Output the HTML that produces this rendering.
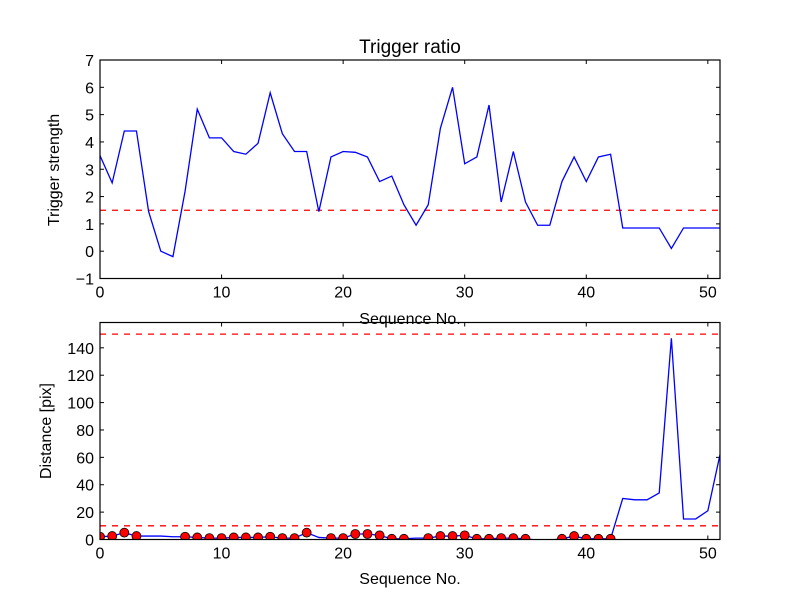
<!DOCTYPE html>
<html><head><meta charset="utf-8"><style>
body{margin:0;background:#fff;}
svg{display:block;font-family:"Liberation Sans","DejaVu Sans",sans-serif;}
</style></head><body>
<svg id="chart" width="800" height="600" viewBox="0 0 800 600" xmlns="http://www.w3.org/2000/svg">
<rect width="800" height="600" fill="#fff"/>
</svg>
<script>
const topValues=[3.5,2.5,4.4,4.4,1.45,0.0,-0.2,2.2,5.2,4.15,4.15,3.65,3.55,3.95,5.8,4.3,3.65,3.65,1.45,3.45,3.65,3.62,3.45,2.55,2.75,1.7,0.95,1.7,4.5,6.0,3.2,3.45,5.35,1.8,3.65,1.8,0.95,0.95,2.55,3.45,2.55,3.45,3.55,0.85,0.85,0.85,0.85,0.1,0.85,0.85,0.85,0.85];
const topThreshold=1.5;
const bottomValues=[2,2.5,5,2.5,2.5,2.5,2,2,1.5,1,1,1.5,1.5,1.5,2,1,1,5,1.5,1,1,4,4,3,0.5,0.5,1,1,2.5,2.5,3,0.5,0.5,1,1,0.5,-0.5,-0.5,0.5,2.5,0.5,0.5,0.5,30,29,29,34,147,15,15,21,62];
const markerIdx=[0,1,2,3,7,8,9,10,11,12,13,14,15,16,17,19,20,21,22,23,24,25,27,28,29,30,31,32,33,34,35,38,39,40,41,42];
const bottomThresholds=[10,150];
const xTicks=[0,10,20,30,40,50];
const topYTicks=[-1,0,1,2,3,4,5,6,7];
const bottomYTicks=[0,20,40,60,80,100,120,140];

const NS="http://www.w3.org/2000/svg";
const svg=document.getElementById('chart');
function mk(tag,attrs,parent){const e=document.createElementNS(NS,tag);for(const k in attrs)e.setAttribute(k,attrs[k]);(parent||svg).appendChild(e);return e;}
const L=100,R=720;
const xS=v=>L+(v-0)/(51-0)*(R-L);
const P1={t:60,b:278.5,min:-1,max:7};
const P2={t:322.5,b:539.5,min:0,max:158.5};
const yS=(p,v)=>p.b-(v-p.min)/(p.max-p.min)*(p.b-p.t);

function axes(p,yt,name){
  const g=mk('g',{});
  
  
  xTicks.forEach(t=>{const x=xS(t);
    mk('line',{x1:x,x2:x,y1:p.b,y2:p.b-4,stroke:'#000'},g);
    mk('line',{x1:x,x2:x,y1:p.t,y2:p.t+4,stroke:'#000'},g);
    const tx=mk('text',{x:x,y:p.b+19,'text-anchor':'middle','font-size':16},g);tx.textContent=t;
    
    
  });
  yt.forEach(t=>{const y=yS(p,t);
    mk('line',{x1:L,x2:L+4,y1:y,y2:y,stroke:'#000'},g);
    mk('line',{x1:R,x2:R-4,y1:y,y2:y,stroke:'#000'},g);
    const tx=mk('text',{x:L-6,y:y+6,'text-anchor':'end','font-size':16},g);tx.textContent=(t<0?'\u2212'+(-t):t);
    
    
  });
  return g;
}
function frame(p,name){const r=mk('rect',{x:L,y:p.t,width:R-L,height:p.b-p.t,fill:'none',stroke:'#000','stroke-width':1.2});
  
  }

// top panel
const clip1=mk('clipPath',{id:'c1'});mk('rect',{x:L,y:P1.t,width:R-L,height:P1.b-P1.t},clip1);
const clip2=mk('clipPath',{id:'c2'});mk('rect',{x:L,y:P2.t,width:R-L,height:P2.b-P2.t},clip2);
axes(P1,topYTicks,'top-axes');
const th1=mk('line',{x1:L,x2:R,y1:yS(P1,topThreshold),y2:yS(P1,topThreshold),stroke:'#f00','stroke-width':1.3,'stroke-dasharray':'6,6'});


const l1=mk('polyline',{points:topValues.map((v,i)=>xS(i)+','+yS(P1,v)).join(' '),fill:'none',stroke:'#00f','stroke-width':1.3,'clip-path':'url(#c1)'});


frame(P1,'top-plot-frame');

// bottom panel
axes(P2,bottomYTicks,'bottom-axes');
bottomThresholds.forEach(v=>{const l=mk('line',{x1:L,x2:R,y1:yS(P2,v),y2:yS(P2,v),stroke:'#f00','stroke-width':1.3,'stroke-dasharray':'6,6'});
  
  });
const l2=mk('polyline',{points:bottomValues.map((v,i)=>xS(i)+','+yS(P2,v)).join(' '),fill:'none',stroke:'#00f','stroke-width':1.3,'clip-path':'url(#c2)'});


markerIdx.forEach(i=>{const c=mk('circle',{cx:xS(i),cy:yS(P2,bottomValues[i]),r:4.5,fill:'#f00',stroke:'#000','stroke-width':0.8,'clip-path':'url(#c2)'});
  
  });
frame(P2,'bottom-plot-frame');

function label(txt,x,y,size,name,rot){const t=mk('text',{x:x,y:y,'text-anchor':'middle','font-size':size});
  if(rot)t.setAttribute('transform','rotate(-90 '+x+' '+y+')');
  t.textContent=txt;
  
  }
label('Trigger ratio',410,53,19,'chart-title');
label('Sequence No.',410,324,16,'top-x-axis-title');
label('Trigger strength',59,170,16,'top-y-axis-title',true);
label('Sequence No.',410,584,16,'bottom-x-axis-title');
label('Distance [pix]',51,431,16,'bottom-y-axis-title',true);
</script>
</body></html>
